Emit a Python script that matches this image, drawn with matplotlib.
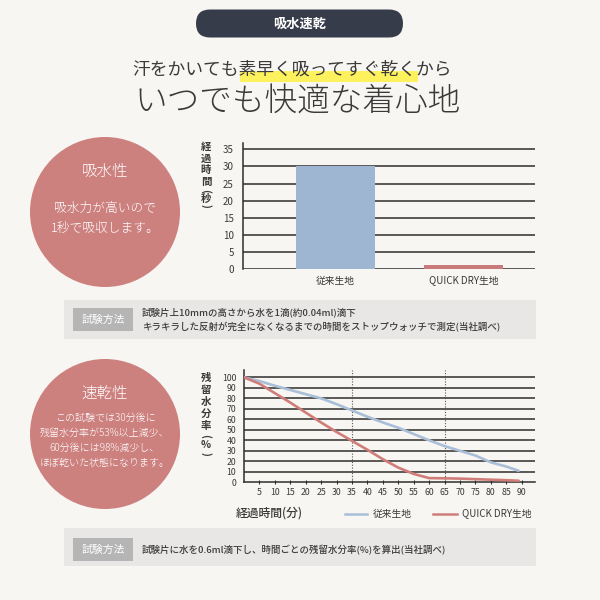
import matplotlib
matplotlib.use("Agg")
import matplotlib.pyplot as plt
from matplotlib.patches import Circle, Rectangle, FancyBboxPatch
from matplotlib.lines import Line2D

plt.rcParams['font.family'] = ['Noto Sans CJK JP', 'DejaVu Sans']

# ---------------- data ----------------
bar_categories = ["従来生地", "QUICK DRY生地"]
bar_values = [30, 1.2]
bar_yticks = [0, 5, 10, 15, 20, 25, 30, 35]

minutes = [0, 5, 10, 15, 20, 25, 30, 35, 40, 45, 50, 55, 60, 65, 70, 75, 80, 85, 89]
conventional = [100, 96.5, 92, 88, 84, 80, 74.5, 68.5, 62.5, 57, 52, 46, 40, 34.5, 30, 25.5, 19, 15, 11]
quick_dry = [100, 94, 85, 76, 66.5, 57, 48, 39.5, 31, 22, 14, 8, 4, 3.8, 3.5, 3, 2.5, 2, 1.5]
line_xticks = [5, 10, 15, 20, 25, 30, 35, 40, 45, 50, 55, 60, 65, 70, 75, 80, 85, 90]
line_yticks = [0, 10, 20, 30, 40, 50, 60, 70, 80, 90, 100]
marker_minutes = [35, 65]
series_names = ["従来生地", "QUICK DRY生地"]

BG = '#f8f6f2'
DARK = '#3a3a3a'
GRID = '#2e2e2e'
ROSE = '#cd817f'
BLUE_BAR = '#9fb6d3'
RED_BAR = '#c97a7a'
BLUE_LINE = '#a9bfd8'
RED_LINE = '#d07d79'

fig = plt.figure(figsize=(6, 6), dpi=100, facecolor=BG)

# overlay in pixel coordinates
ax0 = fig.add_axes([0, 0, 1, 1], zorder=0)
ax0.set_xlim(0, 600)
ax0.set_ylim(600, 0)
ax0.axis('off')
ax0.set_facecolor(BG)

# header pill
ax0.add_patch(FancyBboxPatch((196, 9.5), 207, 28, boxstyle="round,pad=0,rounding_size=14",
                             facecolor='#363c4a', edgecolor='none'))
ax0.text(300, 23.5, "吸水速乾", color='white', fontsize=9.5, fontweight='bold',
         ha='center', va='center')

# subtitle with highlight
ax0.add_patch(Rectangle((240, 70.5), 178, 11.5, facecolor='#fdf15e', edgecolor='none', zorder=1))
ax0.text(292.4, 70, "汗をかいても素早く吸ってすぐ乾くから", color=DARK, fontsize=12.8,
         ha='center', va='center', zorder=2)
ax0.text(297.5, 102, "いつでも快適な着心地", color=DARK, fontsize=23.5, fontweight='light',
         ha='center', va='center')

# circles
ax0.add_patch(Circle((105, 212), 75, facecolor=ROSE, edgecolor='none'))
ax0.text(105, 171.5, "吸水性", color='white', fontsize=11.2, ha='center', va='center', fontweight='light')
ax0.text(105, 208, "吸水力が高いので", color='white', fontsize=9.2, ha='center', va='center', fontweight='light')
ax0.text(105, 228, "1秒で吸収します。", color='white', fontsize=9.2, ha='center', va='center', fontweight='light')

ax0.add_patch(Circle((105, 434), 75, facecolor=ROSE, edgecolor='none'))
ax0.text(105, 393, "速乾性", color='white', fontsize=11.2, ha='center', va='center', fontweight='light')
for yy, s in zip([418, 433, 448, 463],
                 ["この試験では30分後に", "残留水分率が53%以上減少、",
                  "60分後には98%減少し、", "ほぼ乾いた状態になります。"]):
    ax0.text(105, yy, s, color='white', fontsize=7.2, ha='center', va='center', fontweight='light')

# test method boxes
ax0.add_patch(Rectangle((64, 300), 472, 39, facecolor='#e8e7e5', edgecolor='none'))
ax0.add_patch(Rectangle((73, 308), 60, 23, facecolor='#b5b5b5', edgecolor='none'))
ax0.text(103, 319.5, "試験方法", color='white', fontsize=7.8, ha='center', va='center')
ax0.text(142, 312, "試験片上10mmの高さから水を1滴(約0.04ml)滴下", color=DARK, fontsize=6.8,
         ha='left', va='center', fontweight='medium')
ax0.text(142, 327, "キラキラした反射が完全になくなるまでの時間をストップウォッチで測定(当社調べ)",
         color=DARK, fontsize=6.8, ha='left', va='center', fontweight='medium')

ax0.add_patch(Rectangle((64, 528), 472, 38, facecolor='#e8e7e5', edgecolor='none'))
ax0.add_patch(Rectangle((73, 538), 60, 23, facecolor='#b5b5b5', edgecolor='none'))
ax0.text(103, 549.5, "試験方法", color='white', fontsize=7.8, ha='center', va='center')
ax0.text(142, 550, "試験片に水を0.6ml滴下し、時間ごとの残留水分率(%)を算出(当社調べ)",
         color=DARK, fontsize=6.8, ha='left', va='center', fontweight='medium')

# vertical axis titles
def vtext(x, ys, chars, size):
    for y, c in zip(ys, chars):
        if c in "()":
            ax0.text(x, y, c, color=DARK, fontsize=size, fontweight='bold', ha='center',
                     va='center', rotation=-90)
        else:
            ax0.text(x, y, c, color=DARK, fontsize=size, fontweight='bold', ha='center', va='center')

vtext(206, [147, 158.5, 170, 181.5, 191, 198.5, 206], list("経過時間(秒)"), 7.5)
vtext(206, [377.5, 390, 402, 414, 426, 435.5, 444.5, 453.5], list("残留水分率(%)"), 7.5)

# x title and legend of line chart
ax0.text(269, 513, "経過時間(分)", color=DARK, fontsize=8.5, fontweight='medium', ha='center', va='center')
ax0.add_line(Line2D([345, 367], [513.5, 513.5], color=BLUE_LINE, lw=1.8))
ax0.text(372.7, 513.5, series_names[0], color=DARK, fontsize=7, ha='left', va='center')
ax0.add_line(Line2D([433, 457], [513.5, 513.5], color=RED_LINE, lw=1.8))
ax0.text(461.7, 513.5, series_names[1], color=DARK, fontsize=7, ha='left', va='center')

def px_axes(left, top, right, bottom):
    return [left / 600, 1 - bottom / 600, (right - left) / 600, (bottom - top) / 600]

# ---------------- bar chart ----------------
ax1 = fig.add_axes(px_axes(242.7, 143.3, 535, 269.3), zorder=2)
ax1.set_facecolor('none')
ax1.set_ylim(0, 36.75)
ax1.set_xlim(-0.723, 1.555)
for v in bar_yticks:
    ax1.axhline(v, color=GRID, lw=1.1, zorder=1)
ax1.bar([0, 1], bar_values, width=0.616, color=[BLUE_BAR, RED_BAR], zorder=3)
for s in ['top', 'right', 'bottom']:
    ax1.spines[s].set_visible(False)
ax1.spines['left'].set_color(GRID)
ax1.spines['left'].set_linewidth(1.1)
ax1.set_yticks(bar_yticks)
ax1.set_yticklabels([str(v) for v in bar_yticks], fontsize=7, color=DARK)
ax1.tick_params(axis='y', length=0, pad=6.5)
ax1.set_xticks([0, 1])
ax1.set_xticklabels(bar_categories, fontsize=7, color=DARK)
ax1.tick_params(axis='x', length=0, pad=4.5)

# ---------------- line chart ----------------
ax2 = fig.add_axes(px_axes(243.9, 370, 535, 482.3), zorder=2)
ax2.set_facecolor('none')
ax2.set_xlim(0, 94.3)
ax2.set_ylim(0, 107)
for v in line_yticks[1:]:
    ax2.axhline(v, color=GRID, lw=1.1, zorder=1)
for m in marker_minutes:
    ax2.axvline(m, color='#555555', lw=0.8, ls=(0, (1, 1.5)), zorder=1)
ax2.plot(minutes, conventional, color=BLUE_LINE, lw=1.9, zorder=3, solid_capstyle='round')
ax2.plot(minutes, quick_dry, color=RED_LINE, lw=1.9, zorder=3, solid_capstyle='round')
for s in ['top', 'right']:
    ax2.spines[s].set_visible(False)
for s in ['left', 'bottom']:
    ax2.spines[s].set_color(GRID)
    ax2.spines[s].set_linewidth(1.1)
ax2.set_yticks(line_yticks)
ax2.set_yticklabels([str(v) for v in line_yticks], fontsize=6.3, color=DARK)
ax2.tick_params(axis='y', length=0, pad=5.5)
ax2.set_xticks(line_xticks)
ax2.set_xticklabels([str(v) for v in line_xticks], fontsize=6.3, color=DARK)
ax2.tick_params(axis='x', direction='inout', length=3.5, width=0.8, color=GRID, pad=2.5)

fig.savefig("out.png", dpi=100, facecolor=BG)
